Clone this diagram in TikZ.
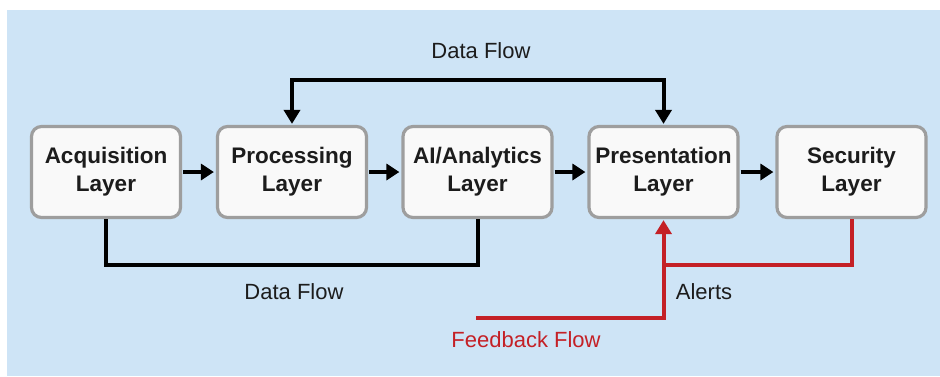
\documentclass[tikz,border=0pt]{standalone}
\usepackage{fontspec}
\setmainfont{Liberation Sans}
\usetikzlibrary{arrows.meta}
\definecolor{bgblue}{RGB}{206,228,246}
\definecolor{boxgray}{RGB}{158,158,158}
\definecolor{boxfill}{RGB}{249,249,249}
\definecolor{fbred}{RGB}{196,32,38}
\definecolor{txt}{RGB}{28,28,28}
\tikzset{
  layer/.style={draw=boxgray, line width=3.2pt, fill=boxfill, rounded corners=10pt,
    minimum width=149pt, minimum height=91pt, align=center, text=txt,
    font=\fontsize{22.5}{28}\selectfont\bfseries, inner sep=0pt},
  flow/.style={line width=4pt, draw=black},
  redflow/.style={line width=4pt, draw=fbred},
  tip/.style={-{Triangle[length=13pt,width=16pt]}},
  lbl/.style={font=\fontsize{22}{26}\selectfont, text=txt, inner sep=0pt}
}
\begin{document}
\begin{tikzpicture}[x=1pt,y=-1pt]
\useasboundingbox (0,0) rectangle (940,376);
\fill[white] (0,0) rectangle (940,376);
\fill[bgblue] (7,10) rectangle (940,376);

\node[layer] (acq)  at (106,172)   {Acquisition\\Layer};
\node[layer] (proc) at (292,172)   {Processing\\Layer};
\node[layer] (ai)   at (477.5,172) {AI/Analytics\\Layer};
\node[layer] (pres) at (663.5,172) {Presentation\\Layer};
\node[layer] (sec)  at (851.5,172) {Security\\Layer};

\draw[flow,tip,shorten <=1pt,shorten >=2pt] (acq) -- (proc);
\draw[flow,tip,shorten <=1pt,shorten >=2pt] (proc) -- (ai);
\draw[flow,tip,shorten <=1pt,shorten >=2pt] (ai) -- (pres);
\draw[flow,tip,shorten <=1pt,shorten >=2pt] (pres) -- (sec);

% top data flow
\coordinate (top) at (480,80);
\draw[flow,{Triangle[length=14pt,width=16pt]}-{Triangle[length=14pt,width=16pt]},shorten <=1pt,shorten >=1pt]
  (proc.north) -- (proc.north |- top) -- (pres.north |- top) -- (pres.north);
\node[lbl] (dftop) at (481,51) {Data Flow};

% bottom data flow
\coordinate (bot) at (300,265);
\draw[flow] (acq.south) -- (acq.south |- bot) -- (ai.south |- bot) -- (ai.south);
\node[lbl] (dfbot) at (294,292) {Data Flow};

% alerts
\coordinate (alrt) at (760,265);
\draw[redflow] (sec.south) -- (sec.south |- alrt) -- (pres.south |- alrt);
\node[lbl] (alerts) at (704,292) {Alerts};

% feedback
\coordinate (fb) at (476,318);
\draw[redflow,-{Triangle[length=14pt,width=16pt]},shorten >=1pt] (fb) -| (pres.south);
\node[lbl,text=fbred] (fbl) at (526,340) {Feedback Flow};
\end{tikzpicture}
\end{document}
